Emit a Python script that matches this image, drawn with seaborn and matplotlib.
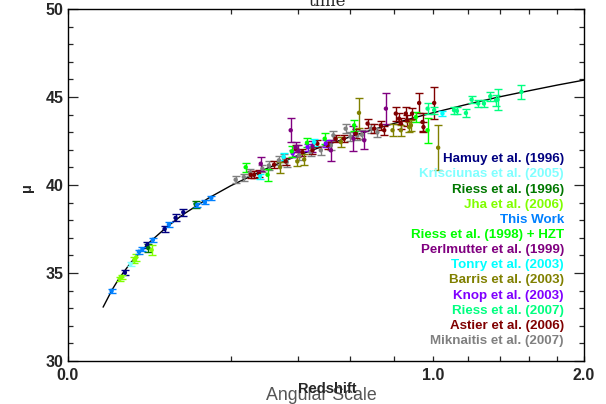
import numpy as np
import pandas as pd
import seaborn as sns
import matplotlib.pyplot as plt
import matplotlib.ticker as mticker

# model curve
curve_z = [0.0095, 0.015, 0.02, 0.03, 0.05, 0.075, 0.1, 0.15, 0.2, 0.3, 0.4, 0.5,
           0.6, 0.7, 0.8, 0.9, 1.0, 1.2, 1.4, 1.6, 1.8, 2.0]
curve_mu = [33.06, 34.06, 34.70, 35.59, 36.73, 37.65, 38.32, 39.27, 39.96, 40.96, 41.69,
            42.26, 42.74, 43.15, 43.50, 43.82, 44.10, 44.59, 45.01, 45.36, 45.68, 45.96]

hamuy_z = [0.0247, 0.0477, 0.0707, 0.0876, 0.1005]
hamuy_mu = [35.03, 36.59, 37.50, 38.13, 38.45]
hamuy_err = [0.15, 0.15, 0.18, 0.2, 0.2]

krisciunas_z = [0.0298]
krisciunas_mu = [35.51]
krisciunas_err = [0.12]

riess96_z = [0.0489, 0.123]
riess96_mu = [36.42, 38.91]
riess96_err = [0.2, 0.2]

jha_z = [0.0205, 0.022, 0.0335, 0.0354, 0.053]
jha_mu = [34.68, 34.78, 35.75, 35.89, 36.31]
jha_err = [0.12, 0.12, 0.18, 0.2, 0.28]

thiswork_z = [0.01455, 0.0382, 0.042, 0.0547, 0.0771, 0.126, 0.1416, 0.155]
thiswork_mu = [33.99, 36.21, 36.35, 36.89, 37.75, 38.87, 39.02, 39.27]
thiswork_err = [0.12, 0.12, 0.12, 0.12, 0.12, 0.12, 0.12, 0.12]

riess98_z = [0.238, 0.30, 0.377, 0.43, 0.496, 0.616, 0.91, 0.972]
riess98_mu = [41.01, 40.58, 41.91, 42.40, 42.63, 43.39, 43.86, 43.11]
riess98_err = [0.25, 0.35, 0.3, 0.25, 0.3, 0.3, 0.3, 0.7]

perlmutter_z = [0.28, 0.3735, 0.39, 0.40, 0.45, 0.52, 0.613, 0.66, 0.76]
perlmutter_mu = [41.21, 43.11, 42.15, 41.95, 42.20, 41.97, 42.63, 42.54, 44.34]
perlmutter_err = [0.4, 0.68, 0.3, 0.3, 0.3, 0.6, 0.7, 0.5, 0.87]

tonry_z = [0.278, 0.35, 0.456, 1.054]
tonry_mu = [40.50, 41.60, 42.44, 44.06]
tonry_err = [0.15, 0.2, 0.2, 0.15]

barris_z = [0.3386, 0.396, 0.42, 0.56, 0.637, 0.792, 0.833, 0.875, 0.884, 1.03]
barris_mu = [41.01, 41.34, 41.45, 42.44, 44.10, 43.11, 43.11, 43.29, 43.39, 42.12]
barris_err = [0.3, 0.25, 0.3, 0.3, 0.85, 0.35, 0.3, 0.3, 0.3, 1.28]

knop_z = [0.38, 0.432, 0.50]
knop_mu = [41.80, 42.15, 42.35]
knop_err = [0.2, 0.2, 0.2]

riess07_z = [0.972, 1.008, 1.12, 1.137, 1.19, 1.224, 1.265, 1.30, 1.34, 1.376, 1.387, 1.545]
riess07_mu = [44.34, 44.25, 44.25, 44.21, 44.09, 44.85, 44.63, 44.63, 45.04, 44.81, 44.85, 45.29]
riess07_err = [0.3, 0.2, 0.2, 0.2, 0.2, 0.2, 0.2, 0.2, 0.25, 0.3, 0.6, 0.4]

astier_z = [0.2515, 0.261, 0.275, 0.32, 0.357, 0.39, 0.414, 0.45, 0.468, 0.507, 0.539,
            0.573, 0.623, 0.675, 0.705, 0.736, 0.752, 0.808, 0.824, 0.833, 0.858, 0.865,
            0.89, 0.927, 0.945, 0.95, 1.008]
astier_mu = [40.58, 40.58, 40.64, 41.15, 41.34, 42.06, 41.87, 41.97, 42.35, 42.25, 42.63,
             42.63, 42.92, 43.49, 43.20, 43.39, 43.11, 44.06, 43.77, 43.49, 44.06, 43.68,
             44.06, 44.66, 43.58, 43.29, 44.66]
astier_err = [0.2, 0.2, 0.2, 0.2, 0.2, 0.2, 0.2, 0.2, 0.2, 0.2, 0.2,
              0.2, 0.25, 0.25, 0.25, 0.25, 0.25, 0.4, 0.3, 0.3, 0.4, 0.3,
              0.3, 0.55, 0.5, 0.3, 0.9]

miknaitis_z = [0.212, 0.233, 0.25, 0.285, 0.304, 0.335, 0.351, 0.36, 0.402, 0.443, 0.481,
               0.52, 0.53, 0.58, 0.60, 0.63, 0.65, 0.69, 0.72]
miknaitis_mu = [40.30, 40.45, 40.70, 40.92, 41.11, 41.40, 41.53, 41.30, 41.68, 41.87, 41.97,
                42.25, 42.82, 43.20, 42.75, 42.80, 42.85, 43.20, 43.00]
miknaitis_err = [0.2, 0.2, 0.2, 0.2, 0.25, 0.25, 0.25, 0.25, 0.25, 0.25, 0.25,
                 0.25, 0.25, 0.25, 0.25, 0.25, 0.25, 0.25, 0.25]

surveys = [
    ("Hamuy et al. (1996)", "#000080", hamuy_z, hamuy_mu, hamuy_err),
    ("Krisciunas et al. (2005)", "#80ffff", krisciunas_z, krisciunas_mu, krisciunas_err),
    ("Riess et al. (1996)", "#007800", riess96_z, riess96_mu, riess96_err),
    ("Jha et al. (2006)", "#80ff00", jha_z, jha_mu, jha_err),
    ("This Work", "#0080ff", thiswork_z, thiswork_mu, thiswork_err),
    ("Riess et al. (1998) + HZT", "#00ff00", riess98_z, riess98_mu, riess98_err),
    ("Perlmutter et al. (1999)", "#800080", perlmutter_z, perlmutter_mu, perlmutter_err),
    ("Tonry et al. (2003)", "#00ffff", tonry_z, tonry_mu, tonry_err),
    ("Barris et al. (2003)", "#808000", barris_z, barris_mu, barris_err),
    ("Knop et al. (2003)", "#8000ff", knop_z, knop_mu, knop_err),
    ("Riess et al. (2007)", "#00ff80", riess07_z, riess07_mu, riess07_err),
    ("Astier et al. (2006)", "#800000", astier_z, astier_mu, astier_err),
    ("Miknaitis et al. (2007)", "#808080", miknaitis_z, miknaitis_mu, miknaitis_err),
]

# draw order in the plot (low-z first, big surveys on top)
draw_order = [12, 11, 6, 8, 9, 7, 5, 10, 0, 1, 2, 3, 4]


def main():
    sns.set_style("ticks")
    plt.rcParams["font.family"] = ["Liberation Sans", "DejaVu Sans"]

    fig = plt.figure(figsize=(6.06, 4.04), dpi=100)
    ax = fig.add_axes([67.5 / 606, 1 - 361 / 404, 516.5 / 606, 352 / 404])

    ax.set_xscale("function", functions=(lambda x: np.sqrt(np.clip(x, 0, None)),
                                          lambda x: np.square(x)))

    curve_df = pd.DataFrame({"z": curve_z, "mu": curve_mu})
    sns.lineplot(data=curve_df, x="z", y="mu", color="black", linewidth=1.0,
                 ax=ax, zorder=1)

    rows = []
    for i in draw_order:
        name, color, zs, mus, errs = surveys[i]
        ax.errorbar(zs, mus, yerr=errs, fmt="none", ecolor=color, elinewidth=1.0,
                    capsize=2.8, capthick=1.0, zorder=2)
        for z, mu in zip(zs, mus):
            rows.append({"z": z, "mu": mu, "survey": name})
    points = pd.DataFrame(rows)
    palette = {name: color for name, color, *_ in surveys}
    sns.scatterplot(data=points, x="z", y="mu", hue="survey", palette=palette,
                    s=10, linewidth=0, legend=False, ax=ax, zorder=3)

    ax.set_xlim(0, 2.0)
    ax.set_ylim(30, 50)
    ax.xaxis.set_major_locator(mticker.FixedLocator([0.0, 1.0, 2.0]))
    ax.xaxis.set_minor_locator(mticker.FixedLocator(np.arange(0.2, 2.0, 0.2)))
    ax.xaxis.set_major_formatter(mticker.FormatStrFormatter("%.1f"))
    ax.yaxis.set_major_locator(mticker.MultipleLocator(5))
    ax.yaxis.set_minor_locator(mticker.MultipleLocator(1))

    ax.tick_params(axis="x", which="both", direction="in", top=True, length=3.6,
                   width=0.9, labelsize=11.5, pad=5)
    ax.tick_params(axis="y", which="major", direction="in", right=True, length=7.5,
                   width=0.9, labelsize=11.5, pad=3)
    ax.tick_params(axis="y", which="minor", direction="in", right=True, length=3.8,
                   width=0.9)
    for lab in ax.get_xticklabels() + ax.get_yticklabels():
        lab.set_fontweight("bold")
    for sp in ax.spines.values():
        sp.set_linewidth(1.0)
        sp.set_color("black")

    ax.set_xlabel("")
    ax.set_ylabel("")
    fig.text(27 / 606, 1 - 188 / 404, "μ", rotation=90, ha="center", va="center",
             fontsize=10.5, fontweight="bold")
    fig.text(321 / 606, 1 - 395 / 404, "Angular Scale", ha="center", va="center",
             fontsize=12.8, color="#555555")
    fig.text(327 / 606, 1 - 389 / 404, "Redshift", ha="center", va="center",
             fontsize=10.5, fontweight="bold")
    fig.text(327 / 606, 1 - 5.5 / 404, "time", ha="center", va="baseline",
             fontsize=12, family=["DejaVu Serif"])

    # coloured text legend, right aligned
    for k, (name, color, *_) in enumerate(surveys):
        ax.text(0.961, 0.573 - k * 0.043, name, transform=ax.transAxes, ha="right",
                va="center", color=color, fontsize=9.6, fontweight="bold", zorder=4)

    fig.savefig("out.png", dpi=100)
    plt.close(fig)


if __name__ == "__main__":
    main()
